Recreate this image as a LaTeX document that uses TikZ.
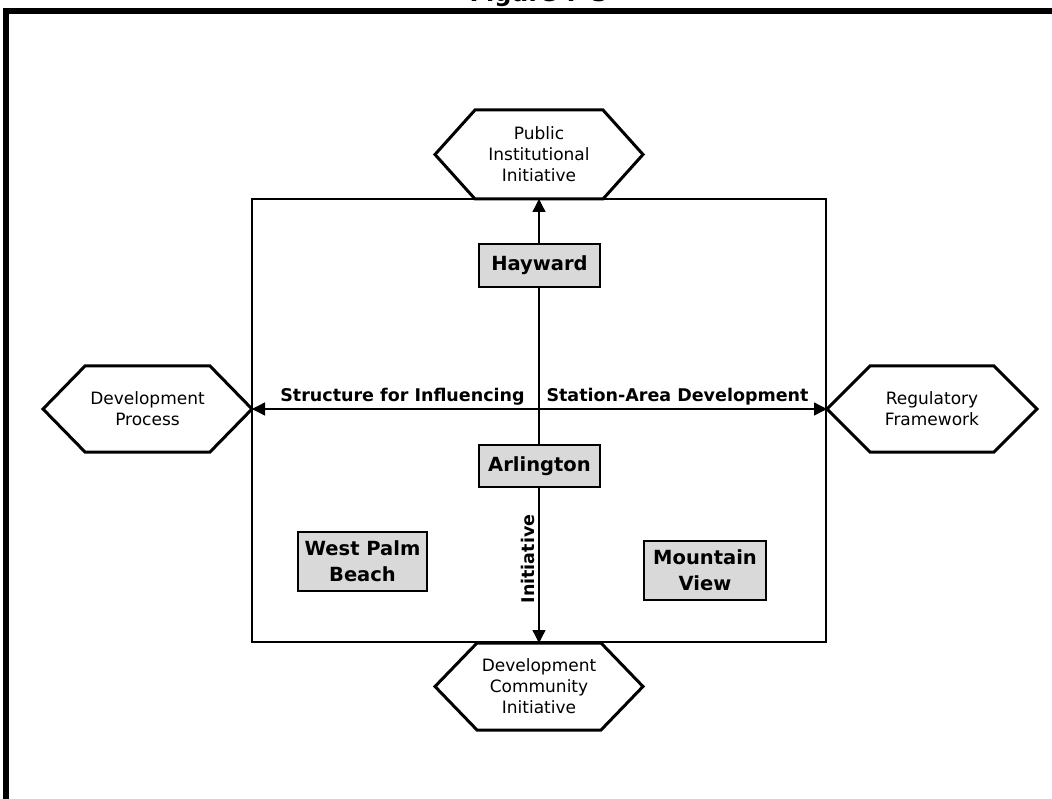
\documentclass[tikz,border=0pt]{standalone}
\usepackage{fontspec}
\setmainfont{DejaVu Sans}
\usetikzlibrary{arrows.meta,calc}
\newcommand\hexoutline[2]{%
  \draw[hexline] (#1.west) -- ($(#1.north west)+(#2,0)$) -- ($(#1.north east)-(#2,0)$)
    -- (#1.east) -- ($(#1.south east)-(#2,0)$) -- ($(#1.south west)+(#2,0)$) -- cycle;}
\begin{document}
\begin{tikzpicture}[x=1pt,y=-1pt,
  hexframe/.style={inner sep=0pt, outer sep=0pt},
  hexline/.style={line width=3pt, fill=white, line join=miter},
  hextext/.style={align=center, font=\fontsize{17}{21}\selectfont, inner sep=0pt},
  citybox/.style={draw, line width=1.3pt, fill=gray!30, align=center,
    font=\fontsize{19.5}{26}\selectfont\bfseries, inner sep=0pt, outer sep=0pt},
  axislabel/.style={font=\fontsize{17.5}{21}\selectfont\bfseries, inner sep=0pt},
  axisline/.style={line width=1.3pt,
    {Triangle[length=13pt,width=13pt]}-{Triangle[length=13pt,width=13pt]}},
]
\useasboundingbox (0,0) rectangle (1052,799);
% title (cut off at top, as in the reference)
\node[font=\fontsize{24}{28}\selectfont\bfseries, anchor=base, inner sep=0pt] (title) at (539,2) {Figure 7-3};
% outer frame
\draw[line width=6pt] (6,11) rectangle (1075,830);
% inner rectangle
\draw[line width=1.3pt] (252,199) rectangle (826,642);
% hexagons
\node[hexframe, minimum width=208pt, minimum height=89pt] (pubF) at (539,154.5) {};
\hexoutline{pubF}{40}
\node[hextext] (pub) at (pubF) {Public\\Institutional\\Initiative};
\node[hexframe, minimum width=208pt, minimum height=87pt] (dciF) at (539,686.5) {};
\hexoutline{dciF}{42}
\node[hextext] (dci) at (dciF) {Development\\Community\\Initiative};
\node[hexframe, minimum width=209pt, minimum height=86pt] (devF) at (147.5,409) {};
\hexoutline{devF}{42}
\node[hextext] (dev) at (devF) {Development\\Process};
\node[hexframe, minimum width=210pt, minimum height=86pt] (regF) at (932,409) {};
\hexoutline{regF}{43}
\node[hextext] (reg) at (regF) {Regulatory\\Framework};
% axes
\draw[axisline] (pubF.south) -- (dciF.north);
\draw[axisline] (devF.east) -- (regF.west);
% city boxes
\node[citybox, minimum width=121pt, minimum height=43pt] (hay) at (539.5,265.5) {Hayward};
\node[citybox, minimum width=121pt, minimum height=42pt] (arl) at (539.5,466) {Arlington};
\node[citybox, minimum width=129pt, minimum height=59pt] (wpb) at (362.5,561.5) {West Palm\\Beach};
\node[citybox, minimum width=122pt, minimum height=59pt] (mv) at (705,570.5) {Mountain\\View};
% axis labels
\node[axislabel, anchor=base] (lab1) at (402.5,401) {Structure for Influencing};
\node[axislabel, anchor=base] (lab2) at (677.5,401) {Station-Area Development};
\node[axislabel, rotate=90] (lab3) at (527.5,559) {Initiative};
\end{tikzpicture}
\end{document}
